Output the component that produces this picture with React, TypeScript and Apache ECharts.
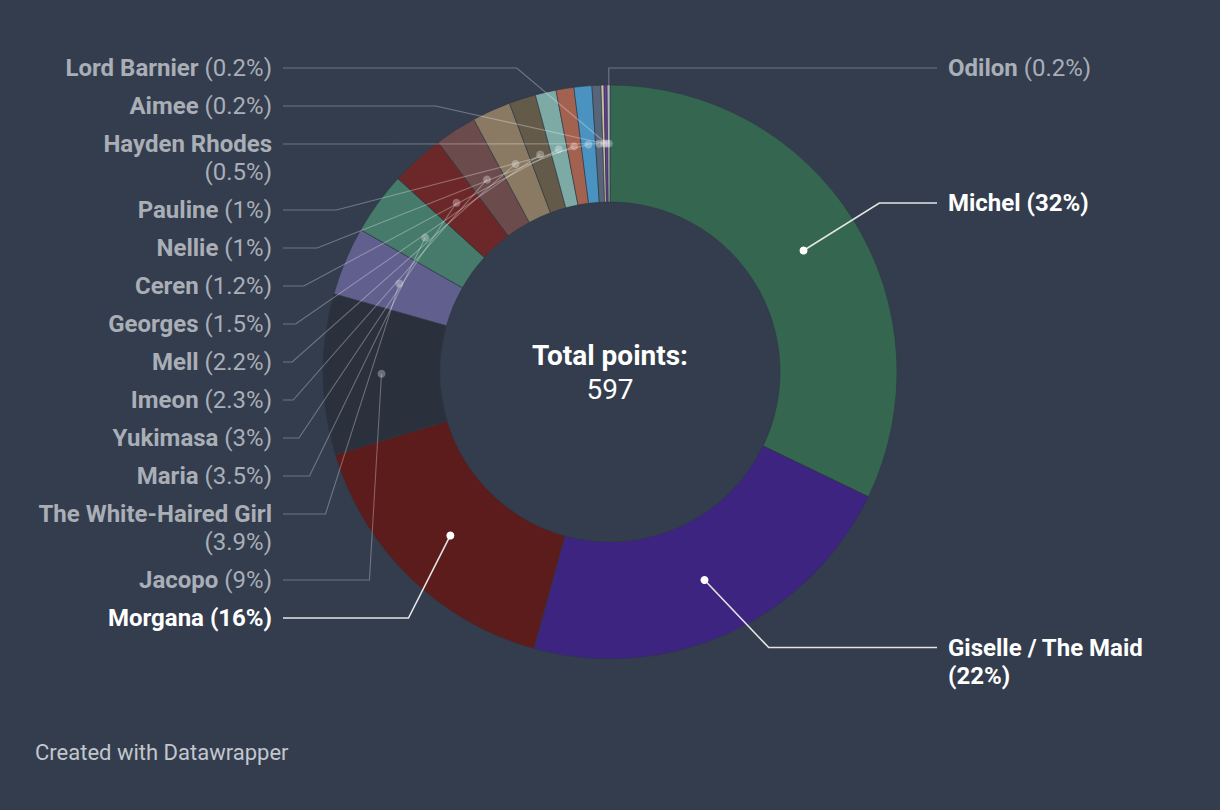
import { useEffect, useRef } from "react";
import * as echarts from "echarts";

// ---- data ----
const names = [
  "Michel",
  "Giselle / The Maid",
  "Morgana",
  "Jacopo",
  "The White-Haired Girl",
  "Maria",
  "Yukimasa",
  "Imeon",
  "Mell",
  "Georges",
  "Ceren",
  "Nellie",
  "Pauline",
  "Hayden Rhodes",
  "Aimee",
  "Lord Barnier",
  "Odilon",
];
const points = [192, 132, 96, 54, 23, 21, 18, 14, 13, 9, 7, 6, 6, 3, 1, 1, 1];
const colors = [
  "#356650",
  "#3c2480",
  "#5c1c1c",
  "#2b303d",
  "#615f8d",
  "#467a6a",
  "#6c2828",
  "#6b4b4c",
  "#8a7a63",
  "#645a4a",
  "#7eaaa6",
  "#a3614f",
  "#4a93c0",
  "#56657a",
  "#c9c0a0",
  "#6a3a9a",
  "#9aa0aa",
];
const highlighted = ["Michel", "Giselle / The Maid", "Morgana"];
const wrapped = ["Giselle / The Maid", "The White-Haired Girl", "Hayden Rhodes"];
const centerTitle = "Total points:";
const footerText = "Created with Datawrapper";

// ---- layout constants ----
const W = 1220;
const H = 810;
const CX = 610;
const CY = 372;
const R_IN = 170;
const R_OUT = 287;
const R_DOT = (R_IN + R_OUT) / 2;
const R_BEND = 318;
const LINE_H = 28;
const GAP = 10;
const TOP_MIN = 54;
const LABEL_OFF = 338;
const LINE_END_OFF = 327;
const FS = 24;
const BG = "#333d4d";
const FONT = "Roboto, 'Noto Sans', sans-serif";
const GRAY_TEXT = "#a9aeb7";
const GRAY_LINE = "rgba(255,255,255,0.3)";
const HL_LINE = "#e4e4e4";

function fmtPct(v: number, total: number) {
  const p = (v / total) * 100;
  const s = p < 10 ? p.toFixed(1) : p.toFixed(0);
  return s.replace(/\.0$/, "");
}

type Lay = {
  side: "left" | "right";
  dot: [number, number];
  top: number;
  h: number;
  ny: number;
  points: number[][];
  labelX: number;
};

function computeLayout(): Lay[] {
  const total = points.reduce((a, b) => a + b, 0);
  let acc = 0;
  const lays: Lay[] = points.map((v, i) => {
    const a0 = (acc / total) * Math.PI * 2;
    acc += v;
    const a1 = (acc / total) * Math.PI * 2;
    const mid = (a0 + a1) / 2;
    const deg = (mid * 180) / Math.PI;
    const side: "left" | "right" = deg < 180 || deg > 359.5 ? "right" : "left";
    const dot: [number, number] = [CX + R_DOT * Math.sin(mid), CY - R_DOT * Math.cos(mid)];
    const lines = wrapped.includes(names[i]) ? 2 : 1;
    const h = lines * LINE_H;
    const ny = CY - R_BEND * Math.cos(mid);
    return { side, dot, top: 0, h, ny, points: [], labelX: 0 };
  });
  (["left", "right"] as const).forEach((side) => {
    const idx = lays
      .map((l, i) => i)
      .filter((i) => lays[i].side === side)
      .sort((a, b) => lays[a].ny - lays[b].ny);
    let prevBottom = -Infinity;
    idx.forEach((i) => {
      const L = lays[i];
      const top = Math.max(L.ny - L.h / 2, prevBottom + GAP, TOP_MIN);
      L.top = top;
      prevBottom = top + L.h;
      const anchorY = top + LINE_H / 2;
      const dy = anchorY - CY;
      const dx = Math.sqrt(Math.max(0, R_BEND * R_BEND - dy * dy));
      let bx = side === "left" ? CX - dx : CX + dx;
      if (side === "right" && Math.abs(L.dot[0] - CX) < 5) bx = L.dot[0];
      const ex = side === "left" ? CX - LINE_END_OFF : CX + LINE_END_OFF;
      L.points = [
        [L.dot[0], L.dot[1]],
        [bx, anchorY],
        [ex, anchorY],
      ];
      L.labelX = side === "left" ? CX - LABEL_OFF : CX + LABEL_OFF;
    });
  });
  return lays;
}

export default function App() {
  const ref = useRef<HTMLDivElement>(null);
  useEffect(() => {
    document.body.style.margin = "0";
    if (!ref.current) return;
    const chart = echarts.init(ref.current, null, { renderer: "svg" });
    const total = points.reduce((a, b) => a + b, 0);
    const lays = computeLayout();

    const data = names.map((n, i) => ({
      name: n,
      value: points[i],
      itemStyle: { color: colors[i] },
    }));

    const leaders: any[] = [];
    lays.forEach((L, i) => {
      const hl = highlighted.includes(names[i]);
      leaders.push({
        type: "polyline",
        z: 100,
        silent: true,
        shape: { points: L.points },
        style: { stroke: hl ? HL_LINE : GRAY_LINE, lineWidth: hl ? 1.6 : 1.1, fill: null },
      });
    });
    lays.forEach((L, i) => {
      const hl = highlighted.includes(names[i]);
      leaders.push({
        type: "circle",
        z: 101,
        silent: true,
        shape: { cx: L.dot[0], cy: L.dot[1], r: 4 },
        style: { fill: hl ? "#ffffff" : "rgba(255,255,255,0.3)" },
      });
    });

    const option: any = {
      animation: false,
      backgroundColor: BG,
      textStyle: { fontFamily: FONT },
      series: [
        {
          type: "pie",
          silent: true,
          center: [CX, CY],
          radius: [R_IN, R_OUT],
          startAngle: 90,
          clockwise: true,
          avoidLabelOverlap: false,
          itemStyle: { borderColor: "#2e3745", borderWidth: 0.6 },
          label: {
            show: true,
            position: "outside",
            fontFamily: FONT,
            fontSize: FS,
            lineHeight: LINE_H,
            color: GRAY_TEXT,
            formatter: (p: any) => {
              const n = names[p.dataIndex];
              const hl = highlighted.includes(n);
              const sep = wrapped.includes(n) ? "\n" : " ";
              const pct = fmtPct(points[p.dataIndex], total);
              return hl
                ? `{hn|${n}}${sep}{hn|(${pct}%)}`
                : `{n|${n}}${sep}{p|(${pct}%)}`;
            },
            rich: {
              n: { fontFamily: FONT, fontSize: FS, fontWeight: "bold", color: GRAY_TEXT, lineHeight: LINE_H },
              p: { fontFamily: FONT, fontSize: FS, fontWeight: "normal", color: GRAY_TEXT, lineHeight: LINE_H },
              hn: { fontFamily: FONT, fontSize: FS, fontWeight: "bold", color: "#ffffff", lineHeight: LINE_H },
            },
          },
          labelLine: { show: false },
          labelLayout: (params: any) => {
            const L = lays[params.dataIndex];
            return {
              x: L.labelX,
              y: L.top,
              align: L.side === "left" ? "right" : "left",
              verticalAlign: "top",
            };
          },
          data,
        },
      ],
      graphic: [
        ...leaders,
        {
          type: "text",
          z: 100,
          x: CX,
          y: CY,
          style: {
            text: `{a|${centerTitle}}\n{b|${total}}`,
            align: "center",
            verticalAlign: "middle",
            rich: {
              a: { fontFamily: FONT, fontSize: 28, fontWeight: "bold", fill: "#ffffff", lineHeight: 34, align: "center" },
              b: { fontFamily: FONT, fontSize: 28, fontWeight: "normal", fill: "#ffffff", lineHeight: 34, align: "center" },
            },
          },
        },
        {
          type: "text",
          z: 100,
          x: 35,
          y: 752,
          style: {
            text: footerText,
            fontFamily: FONT,
            fontSize: 22,
            fill: "#c3c7cd",
            align: "left",
            verticalAlign: "middle",
          },
        },
      ],
    };
    chart.setOption(option);
    return () => chart.dispose();
  }, []);
  return <div ref={ref} style={{ width: W, height: H, background: BG }} />;
}
